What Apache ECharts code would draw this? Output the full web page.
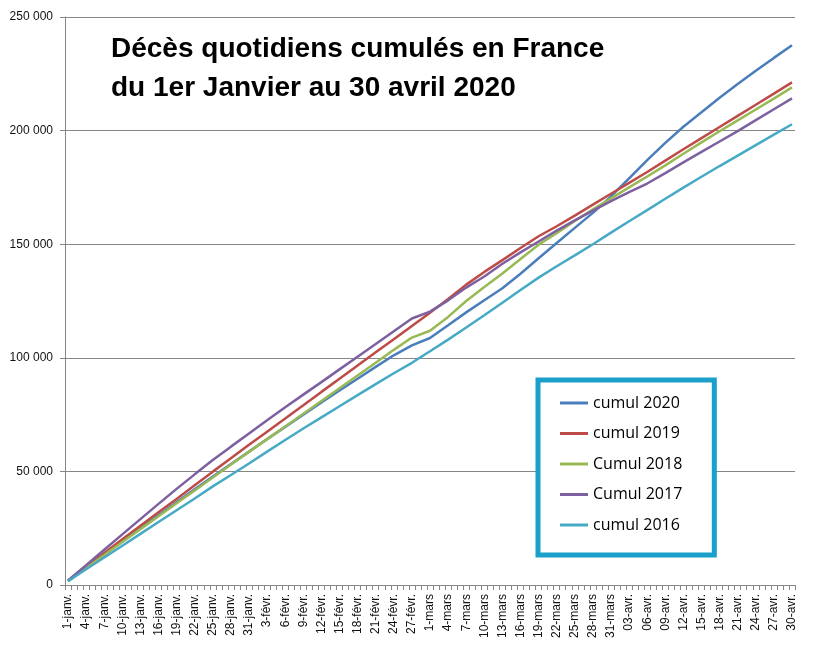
<!DOCTYPE html>
<html>
<head>
<meta charset="utf-8">
<script src="https://cdn.jsdelivr.net/npm/echarts@6/dist/echarts.min.js"></script>
<style>
html,body{margin:0;padding:0;background:#fff;}
#chart{width:821px;height:651px;}
</style>
</head>
<body>
<div id="chart"></div>
<script>
// Category axis: every day from 1 Jan to 30 Apr (121 days)
const monthNames = ['janv.', 'févr.', 'mars', 'avr.'];
const monthLengths = [31, 29, 31, 30];
const days = [];
monthNames.forEach(function (m, k) {
  for (let d = 1; d <= monthLengths[k]; d++) {
    const dd = (m === 'avr.' && d < 10) ? '0' + d : String(d);
    days.push(dd + '-' + m);
  }
});

// Sample dates (every third day, matching the tick labels)
const sampleDays = ['1-janv.','4-janv.','7-janv.','10-janv.','13-janv.','16-janv.','19-janv.','22-janv.','25-janv.','28-janv.','31-janv.',
  '3-févr.','6-févr.','9-févr.','12-févr.','15-févr.','18-févr.','21-févr.','24-févr.','27-févr.',
  '1-mars','4-mars','7-mars','10-mars','13-mars','16-mars','19-mars','22-mars','25-mars','28-mars','31-mars',
  '03-avr.','06-avr.','09-avr.','12-avr.','15-avr.','18-avr.','21-avr.','24-avr.','27-avr.','30-avr.'];

const cumul2020 = [1800,7600,13400,19200,25000,30700,36400,42100,47700,53200,58700,
  64200,69600,75000,80300,85600,90800,96000,101100,105500,
  108700,114300,120000,125300,130600,137000,143800,150500,157200,163800,171000,
  179000,187000,194600,201700,208100,214500,220500,226300,232000,237600];
const cumul2019 = [1900,8000,14100,20100,26100,32000,37900,43900,49900,55800,61700,
  67500,73300,79100,85000,90800,96600,102400,108200,114000,
  119800,125900,132200,137800,143000,148300,153500,157900,162600,167400,172200,
  177000,181800,186800,191800,196700,201600,206500,211400,216300,221200];
const cumul2018 = [1800,7500,13200,18900,24600,30300,36000,41600,47300,53000,58600,
  64200,69800,75400,81000,86600,92200,97800,103500,108900,
  111900,118000,125000,131200,137100,143500,149800,154800,160200,165400,170200,
  175000,179800,184700,189800,194800,199700,204500,209300,214100,219000];
const cumul2017 = [2000,8700,15500,22300,29000,35700,42300,48700,55000,60900,66700,
  72500,78200,83800,89300,94900,100500,106100,111700,117300,
  120300,125300,130900,135800,141400,146400,151200,156000,160500,164800,169000,
  172900,176700,181300,186000,190600,195200,199800,204600,209400,214200];
const cumul2016 = [1700,6900,12100,17300,22500,27700,32900,38100,43400,48400,53500,
  58700,63800,68900,73800,78700,83600,88400,93200,97800,
  102900,108000,113300,118700,124200,129800,135300,140300,145100,150000,155100,
  160100,165000,170000,174900,179700,184400,189000,193600,198200,202800];

const seriesNames = ['cumul 2020', 'cumul 2019', 'Cumul 2018', 'Cumul 2017', 'cumul 2016'];
const seriesValues = [cumul2020, cumul2019, cumul2018, cumul2017, cumul2016];
const seriesColors = ['#4A7EBB', '#BE4B48', '#98B954', '#7D60A0', '#46AAC5'];

const yTicks = { min: 0, max: 250000, interval: 50000 };

function fmt(v) {
  return String(v).replace(/\B(?=(\d{3})+(?!\d))/g, ' ');
}

const chart = echarts.init(document.getElementById('chart'), null, { renderer: 'canvas' });
chart.setOption({
  backgroundColor: '#ffffff',
  animation: false,
  title: {
    text: 'Décès quotidiens cumulés en France\ndu 1er Janvier au 30 avril 2020',
    left: 106,
    top: 25,
    textStyle: {
      fontFamily: 'Liberation Sans, Arial, sans-serif',
      fontWeight: 'bold',
      fontSize: 28,
      lineHeight: 39,
      color: '#000'
    }
  },
  legend: {
    orient: 'vertical',
    left: 538,
    top: 380,
    padding: [13, 32, 20, 22],
    itemGap: 10.5,
    itemWidth: 28,
    itemHeight: 3,
    icon: 'rect',
    backgroundColor: '#ffffff',
    borderColor: '#1B9FCB',
    borderWidth: 5,
    textStyle: {
      fontFamily: 'Open Sans, sans-serif',
      fontSize: 16,
      lineHeight: 20,
      color: '#000'
    },
    data: seriesNames
  },
  grid: { left: 65, right: 26, top: 17, bottom: 66, containLabel: false },
  xAxis: {
    type: 'category',
    data: days,
    boundaryGap: true,
    axisLine: { lineStyle: { color: '#868686', width: 1 } },
    axisTick: { show: true, interval: 0, length: 5, lineStyle: { color: '#868686' } },
    axisLabel: {
      interval: 2,
      rotate: 90,
      margin: 9,
      fontFamily: 'Liberation Sans, Arial, sans-serif',
      fontSize: 12,
      color: '#111'
    },
    splitLine: { show: false }
  },
  yAxis: {
    type: 'value',
    min: yTicks.min,
    max: yTicks.max,
    interval: yTicks.interval,
    axisLine: { show: true, lineStyle: { color: '#868686', width: 1 } },
    axisTick: { show: true, length: 5, lineStyle: { color: '#868686' } },
    axisLabel: {
      margin: 12,
      fontFamily: 'Liberation Sans, Arial, sans-serif',
      fontSize: 12,
      color: '#111',
      formatter: fmt
    },
    splitLine: { show: true, lineStyle: { color: '#868686', width: 1 } }
  },
  series: seriesNames.map(function (name, k) {
    return {
      name: name,
      type: 'line',
      showSymbol: false,
      symbol: 'none',
      smooth: false,
      color: seriesColors[k],
      lineStyle: { width: 2.5, color: seriesColors[k] },
      data: sampleDays.map(function (d, j) { return [d, seriesValues[k][j]]; })
    };
  })
});
</script>
</body>
</html>
